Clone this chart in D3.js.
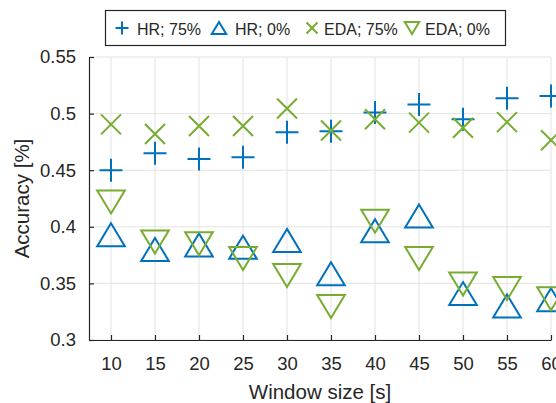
<!DOCTYPE html>
<html>
<head>
<meta charset="utf-8">
<script src="https://cdn.jsdelivr.net/npm/d3@7"></script>
<style>
  body { margin: 0; background: #fff; }
  text { font-family: "Liberation Sans", Arial, sans-serif; fill: #262626; }
</style>
</head>
<body>
<div id="chart"></div>
<script>
const windowSizes = [10, 15, 20, 25, 30, 35, 40, 45, 50, 55, 60];
const hr75  = [0.450, 0.465, 0.460, 0.4615, 0.4835, 0.4845, 0.501, 0.508, 0.495, 0.5135, 0.5155];
const hr0   = [0.393, 0.380, 0.384, 0.382, 0.388, 0.3585, 0.3965, 0.4095, 0.341, 0.330, 0.3355];
const eda75 = [0.4905, 0.482, 0.489, 0.489, 0.5045, 0.485, 0.495, 0.492, 0.4875, 0.4925, 0.4765];
const eda0  = [0.422, 0.3865, 0.385, 0.372, 0.357, 0.3295, 0.405, 0.372, 0.3495, 0.3455, 0.3365];
const yTicks = [0.3, 0.35, 0.4, 0.45, 0.5, 0.55];

const blue = "#0072BD", green = "#77AC30", axisCol = "#262626", gridCol = "#e3e3e3";
const W = 556, H = 403;
const margin = { top: 57, right: 5, bottom: 63, left: 89 };

const svg = d3.select("#chart").append("svg")
  .attr("width", W).attr("height", H);

const x = d3.scaleLinear().domain([7.5, 60]).range([margin.left, 551]);
const y = d3.scaleLinear().domain([0.3, 0.55]).range([340, 57]);

// marker shapes as path strings
const shapes = {
  plus: s => `M${-s},0H${s}M0,${-s}V${s}`,
  cross: s => `M${-s},${-s}L${s},${s}M${-s},${s}L${s},${-s}`,
  up: s => `M0,${-s}L${s * 1.2},${s}L${-s * 1.2},${s}Z`,
  down: s => `M0,${s}L${s * 1.2},${-s}L${-s * 1.2},${-s}Z`
};

// grid
svg.append("g").selectAll("line.gx").data(windowSizes).join("line")
  .attr("x1", d => x(d)).attr("x2", d => x(d))
  .attr("y1", y(0.3)).attr("y2", y(0.55))
  .attr("stroke", gridCol).attr("stroke-width", 1);
svg.append("g").selectAll("line.gy").data(yTicks).join("line")
  .attr("x1", x(7.5)).attr("x2", x(60))
  .attr("y1", d => y(d)).attr("y2", d => y(d))
  .attr("stroke", gridCol).attr("stroke-width", 1);

// axes
const xAxis = svg.append("g")
  .attr("transform", `translate(0,${y(0.3)})`)
  .call(d3.axisBottom(x).tickValues(windowSizes).tickSizeInner(-5).tickSizeOuter(0).tickPadding(17));
const yAxis = svg.append("g")
  .attr("transform", `translate(${x(7.5)},0)`)
  .call(d3.axisLeft(y).tickValues(yTicks).tickFormat(d => String(+d.toFixed(2))).tickSizeInner(-5).tickSizeOuter(0).tickPadding(13));

[xAxis, yAxis].forEach(a => {
  a.select(".domain").attr("stroke", axisCol).attr("stroke-width", 1.2);
  a.selectAll(".tick line").attr("stroke", axisCol).attr("stroke-width", 1.2);
  a.selectAll(".tick text").style("font-size", "18.5px").attr("fill", axisCol);
});

// axis labels
svg.append("text")
  .attr("x", (x(7.5) + x(60)) / 2).attr("y", 399)
  .attr("text-anchor", "middle").style("font-size", "20.5px")
  .text("Window size [s]");
svg.append("text")
  .attr("transform", `translate(29,${(y(0.3) + y(0.55)) / 2}) rotate(-90)`)
  .attr("text-anchor", "middle").style("font-size", "20.5px")
  .text("Accuracy [%]");

// series
const series = [
  { name: "HR; 75%", values: hr75, color: blue, shape: "plus", size: 11.5 },
  { name: "HR; 0%", values: hr0, color: blue, shape: "up", size: 11.5 },
  { name: "EDA; 75%", values: eda75, color: green, shape: "cross", size: 10 },
  { name: "EDA; 0%", values: eda0, color: green, shape: "down", size: 11.5 }
];

series.forEach(s => {
  svg.append("g").selectAll("path").data(s.values).join("path")
    .attr("transform", (d, i) => `translate(${x(windowSizes[i])},${y(d)})`)
    .attr("d", shapes[s.shape](s.size))
    .attr("fill", "none").attr("stroke", s.color).attr("stroke-width", 2);
});

// legend
const legend = svg.append("g");
legend.append("rect")
  .attr("x", 105.5).attr("y", 10.5).attr("width", 400).attr("height", 35)
  .attr("fill", "#fff").attr("stroke", axisCol).attr("stroke-width", 1.2);
const legendPos = [{ m: 122, t: 137 }, { m: 219, t: 235 }, { m: 312, t: 324 }, { m: 412, t: 425 }];
series.forEach((s, i) => {
  legend.append("path")
    .attr("transform", `translate(${legendPos[i].m},28)`)
    .attr("d", shapes[s.shape](s.shape === "cross" ? 5.5 : s.shape === "plus" ? 6.5 : 6))
    .attr("fill", "none").attr("stroke", s.color).attr("stroke-width", 2);
  legend.append("text")
    .attr("x", legendPos[i].t).attr("y", 34.5)
    .style("font-size", "16px")
    .text(s.name);
});
</script>
</body>
</html>
